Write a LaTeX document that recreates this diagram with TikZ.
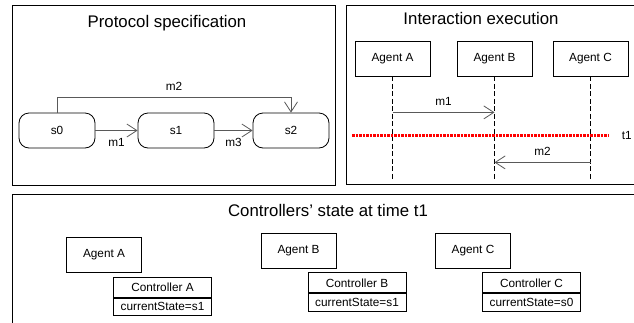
\documentclass[tikz,border=0pt]{standalone}
\usepackage{fontspec}
\setmainfont{Liberation Sans}
\usetikzlibrary{arrows.meta,positioning}

\begin{document}
\begin{tikzpicture}[x=1pt,y=-1pt,line width=0.8pt,
  every node/.style={font=\fontsize{11.8}{14}\selectfont},
  title/.style={font=\fontsize{16.8}{19}\selectfont},
  state/.style={draw,rounded corners=10pt,minimum width=76pt,minimum height=35pt},
  agent/.style={draw,minimum width=75pt,minimum height=35pt},
  ctrl/.style={draw,minimum width=98pt,minimum height=20pt,inner sep=1pt},
  var/.style={draw,minimum width=98pt,minimum height=17.5pt,inner sep=1pt},
  msg/.style={draw=black!65,-{Straight Barb[length=10pt,width=13pt,line width=0.8pt]}},
  life/.style={line width=1.8pt,dash pattern=on 5pt off 2.5pt}]
\useasboundingbox (0,0) rectangle (634,322);

% protocol specification
\draw (12,5) rectangle (335,185);
\node[title] at (167,23) {Protocol specification};
\node[state] (s0) at (57,130.5) {s0};
\node[state] (s1) at (176,130.5) {s1};
\node[state] (s2) at (291,130.5) {s2};
\draw[msg] (s0) -- (s1) node[midway,below=4pt] {m1};
\draw[msg] (s1) -- (s2) node[midway,below=4pt] {m3};
\draw[msg] (s0.north) -- ++(0,-15) -| (s2.north) node[pos=0.25,above=3pt] {m2};

% interaction execution
\draw (346,5) rectangle (645,184);
\node[title] at (481,18) {Interaction execution};
\node[agent] (a) at (392.5,58.5) {Agent A};
\node[agent] (b) at (494.5,58.5) {Agent B};
\node[agent] (c) at (590.5,58.5) {Agent C};
\draw[life] (a.south) -- ++(0,103);
\draw[life] (b.south) -- ++(0,103);
\draw[life] (c.south) -- ++(0,103);
\draw[msg] ([yshift=-36pt]a.south) -- ([yshift=-36pt]b.south) node[midway,above=3pt] {m1};
\draw[msg] ([yshift=-86pt]c.south) -- ([yshift=-86pt]b.south) node[midway,above=3pt] {m2};
\draw[red,line width=3pt,dash pattern=on 2.5pt off 1pt] (352,135) -- (609,135) node[right=8pt,black] {t1};

% controllers at t1
\draw (12,194) rectangle (645,330);
\node[title] at (328,210) {Controllers' state at time t1};
\node[agent] (agA) at (104,255) {Agent A};
\node[agent] (agB) at (298.5,250.5) {Agent B};
\node[agent] (agC) at (473,250.5) {Agent C};
\node[ctrl,below right=4pt and 47pt of agA.south west,anchor=north west] (ctrlA) {Controller A};
\node[var,below=0pt of ctrlA] (varA) {currentState=s1};
\node[ctrl,below right=4pt and 47pt of agB.south west,anchor=north west] (ctrlB) {Controller B};
\node[var,below=0pt of ctrlB] (varB) {currentState=s1};
\node[ctrl,below right=4pt and 47pt of agC.south west,anchor=north west] (ctrlC) {Controller C};
\node[var,below=0pt of ctrlC] (varC) {currentState=s0};
\end{tikzpicture}
\end{document}
